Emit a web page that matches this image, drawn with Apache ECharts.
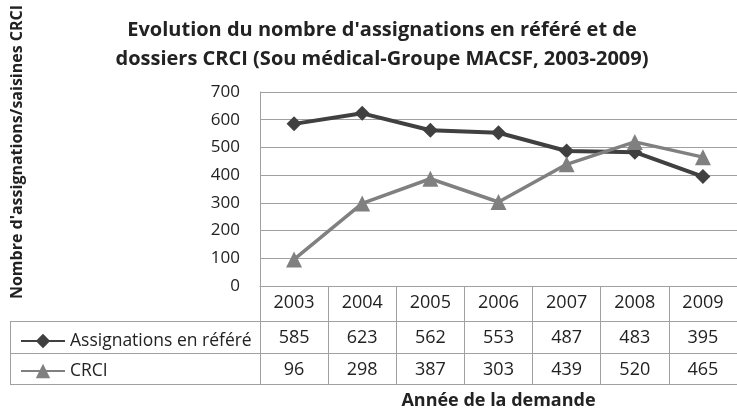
<!DOCTYPE html>
<html>
<head>
<meta charset="utf-8">
<script src="https://cdn.jsdelivr.net/npm/echarts@6/dist/echarts.min.js"></script>
<style>
  html, body { margin: 0; padding: 0; background: #fff; }
  #main { width: 737px; height: 418px; }
</style>
</head>
<body>
<div id="main"></div>
<script>
const years = ['2003', '2004', '2005', '2006', '2007', '2008', '2009'];
const assignations = [585, 623, 562, 553, 487, 483, 395];
const crci = [96, 298, 387, 303, 439, 520, 465];
const yTicks = { min: 0, max: 700, step: 100 };

const font = '"Open Sans", "Noto Sans", sans-serif';
const gridCol = '#a0a0a0';

let chart = echarts.init(document.getElementById('main'));

// one extra x axis per table row, shifted down by offset
function tableAxis(offset, labels, extra) {
  return Object.assign({
    type: 'category',
    data: years,
    position: 'bottom',
    offset: offset,
    boundaryGap: true,
    axisLine: { show: true, lineStyle: { color: gridCol, width: 1 } },
    axisTick: { show: false },
    axisLabel: {
      show: labels !== null,
      interval: 0,
      margin: 8,
      fontFamily: font,
      fontSize: 18,
      color: '#222',
      formatter: (v, i) => labels ? String(labels[i]) : ''
    },
    splitLine: { show: false }
  }, extra || {});
}

let option = {
  backgroundColor: '#fff',
  textStyle: { fontFamily: font },
  title: {
    text: "Evolution du nombre d'assignations en référé et de\ndossiers CRCI (Sou médical-Groupe MACSF, 2003-2009)",
    left: 377,
    top: 11,
    textAlign: 'center',
    textStyle: { fontFamily: font, fontSize: 20, fontWeight: 'bold', color: '#222', lineHeight: 29 }
  },
  legend: {
    orient: 'vertical',
    left: 15,
    top: 327,
    itemWidth: 44,
    itemHeight: 18,
    itemGap: 12,
    textStyle: { fontFamily: font, fontSize: 17.5, color: '#222' },
    data: ['Assignations en référé', 'CRCI']
  },
  grid: { left: 260, right: 0, top: 92, bottom: 132 },
  xAxis: [
    Object.assign(tableAxis(0, years), {
      axisTick: { show: true, interval: 0, length: 98, lineStyle: { color: gridCol } }
    }),
    tableAxis(35, assignations),
    tableAxis(67, crci),
    tableAxis(98, null, {
      name: 'Année de la demande',
      nameLocation: 'middle',
      nameGap: 8,
      nameTextStyle: { fontFamily: font, fontSize: 18, fontWeight: 'bold', color: '#222' }
    })
  ],
  yAxis: {
    type: 'value',
    min: yTicks.min,
    max: yTicks.max,
    interval: yTicks.step,
    axisLine: { show: true, lineStyle: { color: gridCol } },
    axisTick: { show: false },
    axisLabel: { fontFamily: font, fontSize: 17, color: '#222', margin: 20 },
    splitLine: { lineStyle: { color: gridCol, width: 1 } }
  },
  graphic: [
    {
      type: 'text',
      x: 17, y: 152,
      rotation: Math.PI / 2,
      style: {
        text: "Nombre d'assignations/saisines CRCI",
        fontFamily: font, fontSize: 16, fontWeight: 'bold', fill: '#222',
        align: 'center', verticalAlign: 'middle'
      }
    },
    { type: 'line', shape: { x1: 10, y1: 321.5, x2: 260, y2: 321.5 }, style: { stroke: gridCol, lineWidth: 1 } },
    { type: 'line', shape: { x1: 10, y1: 353.5, x2: 260, y2: 353.5 }, style: { stroke: gridCol, lineWidth: 1 } },
    { type: 'line', shape: { x1: 10, y1: 384.5, x2: 260, y2: 384.5 }, style: { stroke: gridCol, lineWidth: 1 } },
    { type: 'line', shape: { x1: 10.5, y1: 321, x2: 10.5, y2: 385 }, style: { stroke: gridCol, lineWidth: 1 } }
  ],
  series: [
    {
      name: 'Assignations en référé',
      type: 'line',
      data: assignations,
      symbol: 'diamond',
      symbolSize: 15,
      lineStyle: { color: '#404040', width: 4 },
      itemStyle: { color: '#404040' }
    },
    {
      name: 'CRCI',
      type: 'line',
      data: crci,
      symbol: 'triangle',
      symbolSize: 16,
      lineStyle: { color: '#808080', width: 3.5 },
      itemStyle: { color: '#808080' }
    }
  ]
};

chart.setOption(option);
</script>
</body>
</html>
